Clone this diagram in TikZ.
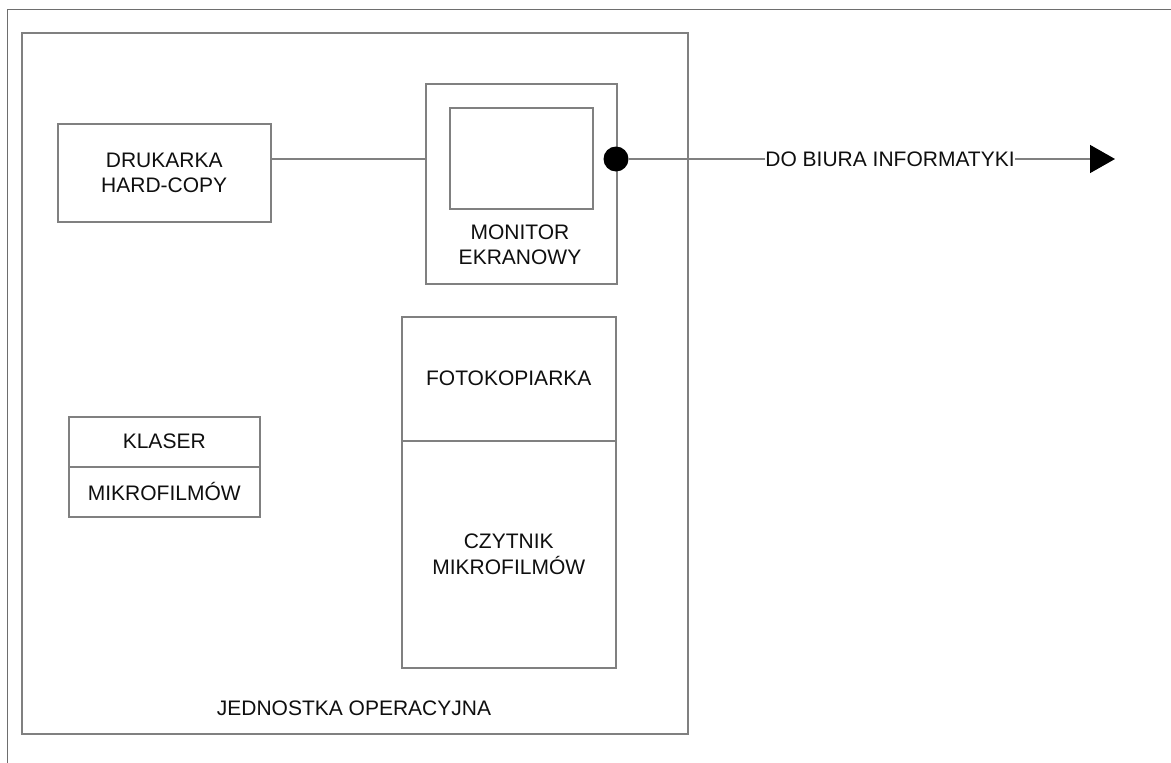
\documentclass[tikz,border=0pt]{standalone}
\usepackage{fontspec}
\setmainfont{Liberation Sans}
\usetikzlibrary{arrows.meta}
\definecolor{linegray}{RGB}{128,128,128}
\definecolor{framegray}{RGB}{110,110,110}
\definecolor{txt}{RGB}{15,15,15}
\begin{document}
\begin{tikzpicture}[x=1pt,y=-1pt,
  box/.style={draw=linegray, line width=1.5pt, anchor=north west, inner sep=0pt},
  lbl/.style={font=\fontsize{21}{25.5}\selectfont, text=txt, align=center, inner sep=0pt},
  conn/.style={draw=linegray, line width=1.5pt}]
\useasboundingbox (0,0) rectangle (1171,763);
\fill[white] (0,0) rectangle (1171,763);
% partial outer frame
\coordinate (ftl) at (7,9);
\coordinate (ftr) at (1171,9);
\coordinate (fbl) at (7,763);
\draw[framegray, line width=1pt] (fbl) -- (ftl) -- (ftr);
% main unit
\node (main) [box, minimum width=666pt, minimum height=701pt] at (21,32) {};
\node (mainlbl) [lbl] at (354,708) {JEDNOSTKA OPERACYJNA};
% printer
\node (druk) [box, minimum width=213pt, minimum height=98pt] at (57,123) {};
\node (druklbl) [lbl] at (druk.center) {DRUKARKA\\HARD-COPY};
% monitor
\node (mon) [box, minimum width=191pt, minimum height=200pt] at (425,83) {};
\node (screen) [box, minimum width=143pt, minimum height=101pt] at (449,107) {};
\node (monlbl) [lbl] at (520,245) {MONITOR\\EKRANOWY};
% photocopier / reader
\node (foto) [box, minimum width=214pt, minimum height=124pt] at (401,316) {};
\node (fotolbl) [lbl] at (foto.center) {FOTOKOPIARKA};
\node (czyt) [box, minimum width=214pt, minimum height=227pt] at (401,440) {};
\node (czytlbl) [lbl] at (czyt.center) {CZYTNIK\\MIKROFILMÓW};
% klaser
\node (klas) [box, minimum width=191pt, minimum height=50pt] at (68,416) {};
\node (klaslbl) [lbl] at (klas.center) {KLASER};
\node (mikro) [box, minimum width=191pt, minimum height=50pt] at (68,466) {};
\node (mikrolbl) [lbl] at (mikro.center) {MIKROFILMÓW};
% connection dot
\node (dot) [circle, fill=black, minimum size=25pt, inner sep=0pt] at (616,159) {};
% connectors
\draw[conn] (druk.east |- dot.center) -- (mon.west |- dot.center);
\node (out) [lbl] at (890,159) {DO BIURA INFORMATYKI};
\coordinate (tip) at (1115,159);
\draw[conn] (dot.east) -- (out.west);
\draw[conn, -{Triangle[length=25pt,width=28pt,color=black]}] (out.east) -- (tip);
\end{tikzpicture}
\end{document}
